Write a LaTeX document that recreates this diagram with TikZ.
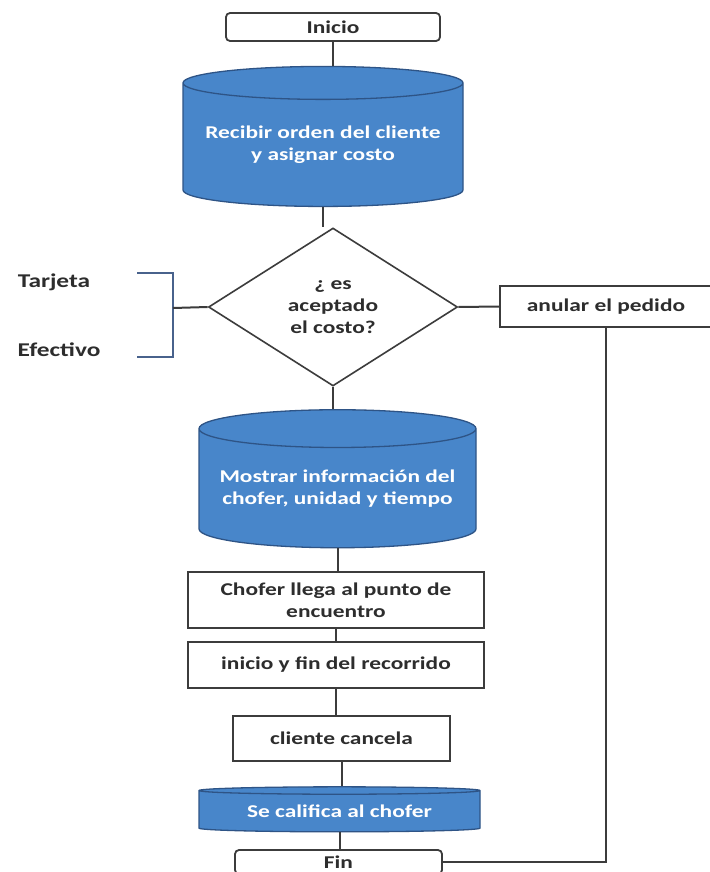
\documentclass[tikz,border=0pt]{standalone}
\usepackage{fontspec}
\setmainfont[FakeStretch=1.3]{Carlito}
\usepackage{tikz}
\usetikzlibrary{shapes,positioning}
\definecolor{cilblue}{RGB}{72,134,202}
\definecolor{cilborder}{RGB}{46,84,134}
\definecolor{darkline}{RGB}{60,60,60}
\definecolor{darktext}{RGB}{45,45,45}
\definecolor{bracketblue}{RGB}{72,98,140}
\tikzstyle{conn} = [line width=2pt,color=darkline]
\tikzstyle{box} = [draw=darkline,line width=1.8pt,fill=white,text=darktext,align=center,inner sep=0pt]
\tikzstyle{startstop} = [box,rounded corners=4pt]
\tikzstyle{db} = [cylinder,shape border rotate=90,draw=cilborder,line width=1.3pt,fill=cilblue,text=white,align=center,inner sep=0pt]
\tikzstyle{decision} = [diamond,draw=darkline,line width=1.6pt,fill=white,text=darktext,align=center,inner sep=0pt]

\begin{document}
\begin{tikzpicture}[x=1pt,y=-1pt,every node/.style={font=\fontsize{18}{22}\selectfont\bfseries}]
\useasboundingbox[fill=white] (0,0) rectangle (709,872);

% Main column
\node[startstop, minimum width=214pt, minimum height=28pt] (inicio) at (333,27) {Inicio};
\node[db, minimum width=280pt, minimum height=140pt, aspect=0.14] (recibir) at (323,145) {Recibir orden del cliente\\y asignar costo};
\node[decision, minimum width=249pt, minimum height=158pt] (acepta) at (333,307) {¿ es\\aceptado\\el costo?};
\node[db, minimum width=277pt, minimum height=138pt, aspect=0.16] (mostrar) at (337.5,488.5) {Mostrar información del\\chofer, unidad y tiempo};
\node[box, minimum width=296pt, minimum height=56pt] (llega) at (336,600) {Chofer llega al punto de\\encuentro};
\node[box, minimum width=296pt, minimum height=46pt] (recorrido) at (336,665) {inicio y fin del recorrido};
\node[box, minimum width=217pt, minimum height=45pt] (cancela) at (341.5,738.5) {cliente cancela};
\node[db, minimum width=281pt, minimum height=45pt, aspect=0.04] (califica) at (339.5,811.5) {Se califica al chofer};
\node[startstop, minimum width=207pt, minimum height=24pt] (fin) at (338.5,862) {Fin};

% Side branch
\node[box, minimum width=212pt, minimum height=41pt] (anular) at (606,306.5) {anular el pedido};

% Payment options
\node[text=darktext, font=\fontsize{19.5}{22}\selectfont\bfseries] (tarjeta) at (54,282) {Tarjeta};
\node[text=darktext, font=\fontsize{19.5}{22}\selectfont\bfseries] (efectivo) at (59,350) {Efectivo};
\coordinate (llave) at (173,308);
\draw[line width=1.5pt, color=bracketblue] (137,273) -- (173,273) -- (173,357) -- (137,357);

% Connectors
\foreach \a/\b in {inicio/recibir,recibir/acepta,acepta/mostrar,mostrar/llega,llega/recorrido,recorrido/cancela,cancela/califica,califica/fin}
  \draw[conn] (\a.south) -- (\a.south |- \b.north);
\draw[conn] (llave) -- (acepta.west);
\draw[conn] (acepta.east) -- (anular.west);
\draw[conn] (anular.south) -- (anular.south |- fin.east) -- (fin.east);
\end{tikzpicture}
\end{document}
